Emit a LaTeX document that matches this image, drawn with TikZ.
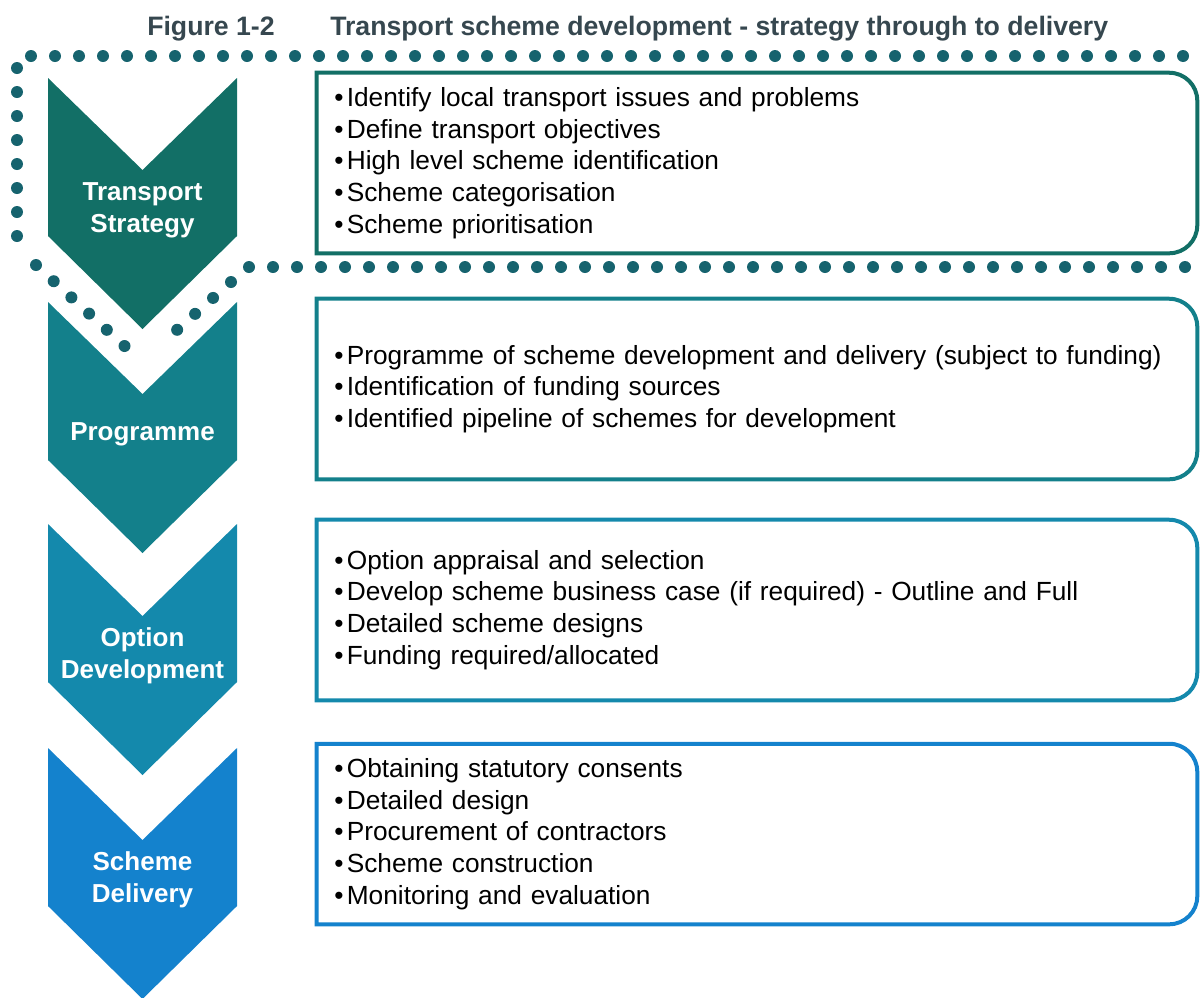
\documentclass[tikz,border=0pt]{standalone}
\usepackage{fontspec}
\setmainfont{Liberation Sans}
\usetikzlibrary{calc}
\definecolor{stratcol}{HTML}{126F66}
\definecolor{progcol}{HTML}{13808B}
\definecolor{optcol}{HTML}{1489AC}
\definecolor{delcol}{HTML}{1482CD}
\definecolor{dotcol}{HTML}{16636E}
\definecolor{titlecol}{HTML}{36474F}
\tikzstyle{every picture}+=[x=0.75pt, y=-0.75pt]
\tikzstyle{chevlabel} = [text=white, font=\fontsize{19.5}{24}\selectfont\bfseries, align=center, inner sep=0pt]
\tikzstyle{boxtext} = [text width=634pt, inner xsep=13pt, inner ysep=0pt, minimum height=135pt, align=left, font=\fontsize{19.7}{23.8}\selectfont]
\tikzstyle{boxline} = [line width=3pt]
\tikzstyle{dotline} = [dotcol, line width=9pt, line cap=round, dash pattern=on 0pt off 18pt]
\tikzstyle{titletext} = [titlecol, font=\fontsize{20}{24}\selectfont\bfseries, anchor=west, inner sep=0pt]
\newcommand{\bul}{\textbullet\kern2.5pt}

\begin{document}
\begin{tikzpicture}
 		\useasboundingbox (0,0) rectangle (1201,997);
 		\node[titletext] (fig) at (147,29) {Figure 1-2};
 		\node[titletext] (title) at (330,29) {Transport scheme development - strategy through to delivery};
 		% chevrons
 		\foreach \y/\col/\lab/\name in {78/stratcol/{Transport\\Strategy}/strat, 302/progcol/{Programme}/prog, 524/optcol/{Option\\Development}/optdev, 748/delcol/{Scheme\\Delivery}/deliv}
 		{
 			\fill[\col] (48,\y) -- (142.5,\y+92) -- (237,\y) -- (237,\y+158) -- (142.5,\y+251) -- (48,\y+158) -- cycle;
 			\node[chevlabel] (\name) at (142.5,\y+132) {\lab};
 		}
 		% dotted frame round the strategy stage
 		\draw[dotline] (31,56) -- (1185,56) (17,68) -- (17,248) (36,265) -- (142,362) (231,282) -- (160,345) (249,267) -- (1185,267);
 		% boxes
 		\node[boxtext] (strattxt) at (757,163) {\bul Identify local transport issues and problems\\\bul Define transport objectives\\\bul High level scheme identification\\\bul Scheme categorisation\\\bul Scheme prioritisation};
 		\node[boxtext] (progtxt) at (757,389) {\bul Programme of scheme development and delivery (subject to funding)\\\bul Identification of funding sources\\\bul Identified pipeline of schemes for development};
 		\node[boxtext] (optdevtxt) at (757,610) {\bul Option appraisal and selection\\\bul Develop scheme business case (if required) - Outline and Full\\\bul Detailed scheme designs\\\bul Funding required/allocated};
 		\node[boxtext] (delivtxt) at (757,834) {\bul Obtaining statutory consents\\\bul Detailed design\\\bul Procurement of contractors\\\bul Scheme construction\\\bul Monitoring and evaluation};
 		\foreach \b/\col in {strattxt/stratcol, progtxt/progcol, optdevtxt/optcol, delivtxt/delcol}
 		{
 			\draw[boxline, \col] (\b.south west) -- (\b.north west) -- ($(\b.north east)+(-28,0)$) arc[start angle=90, end angle=0, radius=21pt] -- ($(\b.south east)+(0,-28)$) arc[start angle=0, end angle=-90, radius=21pt] -- cycle;
 		}
 	\end{tikzpicture}
\end{document}
